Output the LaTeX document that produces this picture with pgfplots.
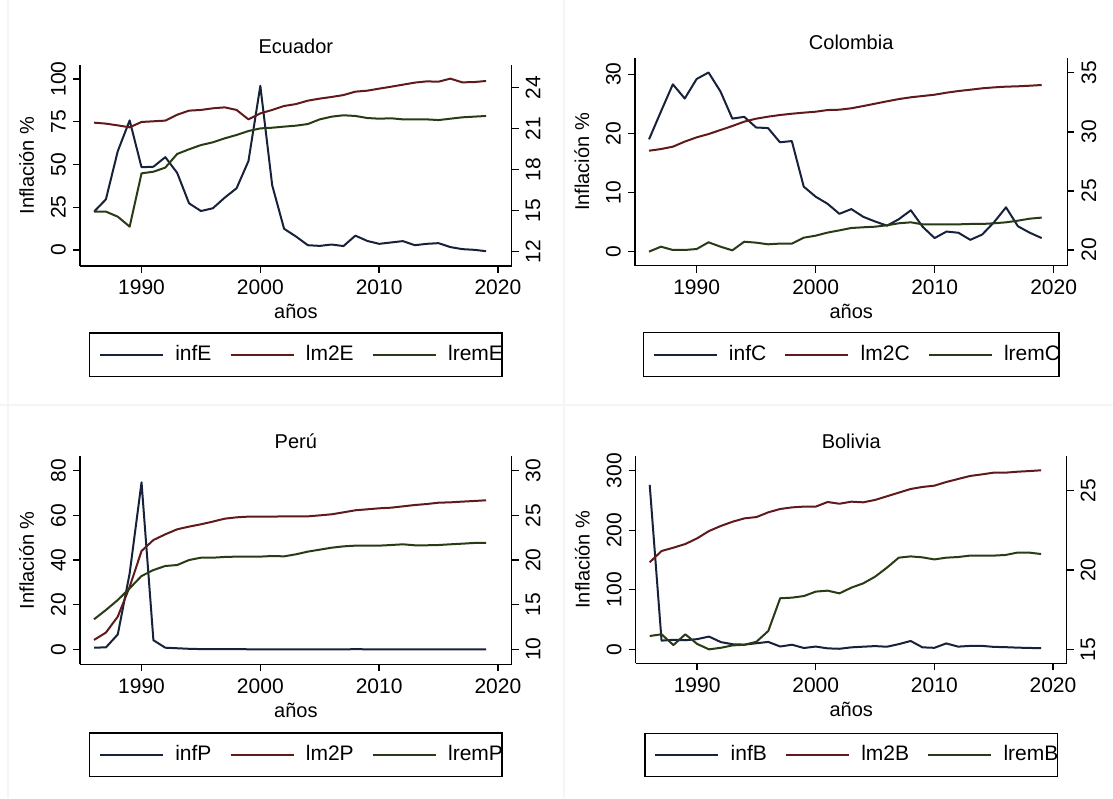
\documentclass[border=0pt]{standalone}
\usepackage{fontspec}
\setmainfont{Liberation Sans}
\usepackage{pgfplots}
\pgfplotsset{compat=1.18}
\definecolor{cNavy}{HTML}{17223A}
\definecolor{cMar}{HTML}{601A1C}
\definecolor{cGrn}{HTML}{283B15}
\newcommand{\fs}{\fontsize{10.5pt}{12pt}\selectfont}
\pgfplotsset{
  panel/.style={scale only axis, xmin=1984.82, xmax=2021.16,
    xtick={1990,2000,2010,2020},
    tick align=outside, major tick length=3.5pt,
    axis line style={line width=0.7pt, black},
    every tick/.style={line width=0.7pt, black},
    tick label style={font=\fs}, label style={font=\fs}, title style={font=\fs},
    /pgf/number format/1000 sep={},
    /pgf/number format/assume math mode=true},
  lax/.style={panel, axis x line*=bottom, axis y line*=left,
    xlabel={años}, ylabel={Inflación \%},
    yticklabel style={rotate=90, anchor=south},
    every axis x label/.style={at={(axis description cs:0.5,0)}, anchor=base, yshift=-26.4pt},
    every axis y label/.style={at={(axis description cs:0,0.5)}, xshift=-23pt, rotate=90, anchor=base},
    every axis title/.style={at={(axis description cs:0.5,1)}, anchor=base}},
  rax/.style={panel, axis x line=none, axis y line*=right,
    yticklabel style={rotate=90, anchor=north},
    legend columns=3,
    legend style={anchor=north, draw=black, line width=0.6pt, font=\fs,
      inner xsep=4.7pt, inner ysep=6.3pt, column sep=5.6pt, nodes={inner sep=0pt}},
    legend image code/.code={\draw[#1] (0pt,0pt) -- (31.5pt,0pt);}},
  serie/.style={line width=1pt, line join=round},
}
\begin{document}
\begin{tikzpicture}
\useasboundingbox (0,0) rectangle (556.5pt,399pt);
\fill[white] (0,0) rectangle (556.5pt,399pt);
\draw[black!4, line width=0.8pt] (282pt,0) -- (282pt,399pt);
\draw[black!4, line width=0.8pt] (0,196.5pt) -- (556.5pt,196.5pt);
\draw[black!4, line width=0.8pt] (4pt,0) -- (4pt,399pt);

% ---------------- Ecuador ----------------
\begin{axis}[lax, at={(40pt,266pt)}, anchor=south west, width=215.85pt, height=100.5pt,
  ymin=-9.36, ymax=108.2, ytick={0,25,50,75,100},
  title={Ecuador}, title style={yshift=5.5pt}]
\addplot[serie, cNavy] coordinates {(1986,22.4)(1987,29.6)(1988,57.8)(1989,75.8)(1990,48.4)(1991,48.7)(1992,54.3)(1993,45.1)(1994,27.3)(1995,22.8)(1996,24.4)(1997,30.6)(1998,36.1)(1999,52.0)(2000,96.0)(2001,37.8)(2002,12.4)(2003,7.9)(2004,2.8)(2005,2.4)(2006,3.2)(2007,2.3)(2008,8.4)(2009,5.3)(2010,3.6)(2011,4.4)(2012,5.2)(2013,2.8)(2014,3.6)(2015,4.0)(2016,1.7)(2017,0.5)(2018,0.1)(2019,-0.7)};
\end{axis}
\begin{axis}[rax, at={(40pt,266pt)}, anchor=south west, width=215.85pt, height=100.5pt,
  ymin=10.95, ymax=25.66, ytick={12,15,18,21,24},
  legend style={at={(0.5,-0.33)}}]
\addlegendimage{serie, cNavy}
\addlegendentry{infE\kern3.5pt}
\addplot[serie, cMar] coordinates {(1986,21.44)(1987,21.37)(1988,21.24)(1989,21.10)(1990,21.49)(1991,21.54)(1992,21.59)(1993,22.02)(1994,22.32)(1995,22.37)(1996,22.49)(1997,22.56)(1998,22.37)(1999,21.68)(2000,22.12)(2001,22.37)(2002,22.66)(2003,22.80)(2004,23.05)(2005,23.20)(2006,23.32)(2007,23.46)(2008,23.71)(2009,23.78)(2010,23.93)(2011,24.07)(2012,24.22)(2013,24.37)(2014,24.46)(2015,24.44)(2016,24.66)(2017,24.39)(2018,24.41)(2019,24.49)};
\addlegendentry{lm2E\kern3.5pt}
\addplot[serie, cGrn] coordinates {(1986,14.93)(1987,14.93)(1988,14.56)(1989,13.83)(1990,17.73)(1991,17.85)(1992,18.15)(1993,19.15)(1994,19.49)(1995,19.80)(1996,20.00)(1997,20.29)(1998,20.54)(1999,20.83)(2000,21.02)(2001,21.07)(2002,21.15)(2003,21.22)(2004,21.34)(2005,21.68)(2006,21.88)(2007,21.98)(2008,21.93)(2009,21.78)(2010,21.73)(2011,21.76)(2012,21.68)(2013,21.68)(2014,21.68)(2015,21.63)(2016,21.73)(2017,21.83)(2018,21.88)(2019,21.93)};
\addlegendentry{lremE\kern-5.2pt}
\end{axis}

% ---------------- Colombia ----------------
\begin{axis}[lax, at={(317.5pt,266.15pt)}, anchor=south west, width=216.2pt, height=103.7pt,
  ymin=-2.37, ymax=32.7, ytick={0,10,20,30},
  title={Colombia}, title style={yshift=4.2pt}]
\addplot[serie, cNavy] coordinates {(1986,19.0)(1987,23.7)(1988,28.3)(1989,25.9)(1990,29.2)(1991,30.3)(1992,27.1)(1993,22.5)(1994,22.8)(1995,21.0)(1996,20.9)(1997,18.5)(1998,18.7)(1999,11.0)(2000,9.3)(2001,8.1)(2002,6.4)(2003,7.2)(2004,5.9)(2005,5.1)(2006,4.4)(2007,5.5)(2008,7.0)(2009,4.2)(2010,2.3)(2011,3.4)(2012,3.2)(2013,2.0)(2014,2.9)(2015,5.0)(2016,7.5)(2017,4.3)(2018,3.2)(2019,2.3)};
\end{axis}
\begin{axis}[rax, at={(317.5pt,266.15pt)}, anchor=south west, width=216.2pt, height=103.7pt,
  ymin=18.67, ymax=36.22, ytick={20,25,30,35},
  legend style={at={(0.5,-0.321)}}]
\addlegendimage{serie, cNavy}
\addlegendentry{infC\kern3.5pt}
\addplot[serie, cMar] coordinates {(1986,28.40)(1987,28.54)(1988,28.74)(1989,29.17)(1990,29.53)(1991,29.81)(1992,30.15)(1993,30.49)(1994,30.86)(1995,31.11)(1996,31.28)(1997,31.42)(1998,31.53)(1999,31.62)(2000,31.70)(2001,31.84)(2002,31.87)(2003,31.99)(2004,32.18)(2005,32.38)(2006,32.58)(2007,32.77)(2008,32.92)(2009,33.03)(2010,33.14)(2011,33.31)(2012,33.45)(2013,33.56)(2014,33.68)(2015,33.76)(2016,33.82)(2017,33.85)(2018,33.90)(2019,33.96)};
\addlegendentry{lm2C\kern3.5pt}
\addplot[serie, cGrn] coordinates {(1986,19.86)(1987,20.28)(1988,20.00)(1989,20.00)(1990,20.08)(1991,20.65)(1992,20.28)(1993,19.97)(1994,20.70)(1995,20.62)(1996,20.48)(1997,20.54)(1998,20.54)(1999,21.04)(2000,21.21)(2001,21.47)(2002,21.66)(2003,21.86)(2004,21.92)(2005,21.97)(2006,22.09)(2007,22.26)(2008,22.34)(2009,22.17)(2010,22.17)(2011,22.17)(2012,22.17)(2013,22.20)(2014,22.20)(2015,22.26)(2016,22.34)(2017,22.48)(2018,22.65)(2019,22.74)};
\addlegendentry{lremC\kern-5.2pt}
\end{axis}

% ---------------- Peru ----------------
\begin{axis}[lax, at={(40pt,66.85pt)}, anchor=south west, width=215.85pt, height=104.15pt,
  ymin=-6.7, ymax=86.6, ytick={0,20,40,60,80},
  title={Perú}, title style={yshift=3.5pt}]
\addplot[serie, cNavy] coordinates {(1986,0.78)(1987,0.86)(1988,6.67)(1989,34.0)(1990,74.8)(1991,4.09)(1992,0.73)(1993,0.49)(1994,0.24)(1995,0.11)(1996,0.12)(1997,0.085)(1998,0.07)(1999,0.035)(2000,0.038)(2001,0.02)(2002,0.002)(2003,0.023)(2004,0.037)(2005,0.016)(2006,0.02)(2007,0.018)(2008,0.058)(2009,0.029)(2010,0.015)(2011,0.034)(2012,0.037)(2013,0.028)(2014,0.032)(2015,0.036)(2016,0.036)(2017,0.028)(2018,0.013)(2019,0.021)};
\end{axis}
\begin{axis}[rax, at={(40pt,66.85pt)}, anchor=south west, width=215.85pt, height=104.15pt,
  ymin=8.32, ymax=31.65, ytick={10,15,20,25,30},
  legend style={at={(0.5,-0.327)}}]
\addlegendimage{serie, cNavy}
\addlegendentry{infP\kern3.5pt}
\addplot[serie, cMar] coordinates {(1986,11.05)(1987,11.87)(1988,13.66)(1989,17.00)(1990,21.01)(1991,22.24)(1992,22.88)(1993,23.44)(1994,23.74)(1995,24.00)(1996,24.30)(1997,24.63)(1998,24.78)(1999,24.86)(2000,24.86)(2001,24.86)(2002,24.89)(2003,24.89)(2004,24.89)(2005,25.00)(2006,25.12)(2007,25.34)(2008,25.57)(2009,25.68)(2010,25.79)(2011,25.86)(2012,26.01)(2013,26.16)(2014,26.27)(2015,26.42)(2016,26.46)(2017,26.54)(2018,26.61)(2019,26.69)};
\addlegendentry{lm2P\kern3.5pt}
\addplot[serie, cGrn] coordinates {(1986,13.36)(1987,14.40)(1988,15.52)(1989,16.83)(1990,18.21)(1991,18.88)(1992,19.33)(1993,19.44)(1994,20.00)(1995,20.26)(1996,20.26)(1997,20.34)(1998,20.38)(1999,20.38)(2000,20.38)(2001,20.45)(2002,20.41)(2003,20.64)(2004,20.94)(2005,21.16)(2006,21.38)(2007,21.53)(2008,21.61)(2009,21.61)(2010,21.61)(2011,21.68)(2012,21.76)(2013,21.65)(2014,21.65)(2015,21.68)(2016,21.76)(2017,21.83)(2018,21.91)(2019,21.91)};
\addlegendentry{lremP\kern-5.2pt}
\end{axis}

% ---------------- Bolivia ----------------
\begin{axis}[lax, at={(317.85pt,67.35pt)}, anchor=south west, width=215.5pt, height=103.65pt,
  ymin=-23.5, ymax=324.7, ytick={0,100,200,300},
  title={Bolivia}, title style={yshift=3.8pt}]
\addplot[serie, cNavy] coordinates {(1986,276.3)(1987,14.6)(1988,16.0)(1989,15.2)(1990,17.1)(1991,21.4)(1992,12.1)(1993,8.5)(1994,7.9)(1995,10.2)(1996,12.4)(1997,4.7)(1998,7.7)(1999,2.2)(2000,4.6)(2001,1.6)(2002,0.9)(2003,3.3)(2004,4.4)(2005,5.4)(2006,4.3)(2007,8.7)(2008,14.0)(2009,3.3)(2010,2.5)(2011,9.9)(2012,4.5)(2013,5.7)(2014,5.8)(2015,4.1)(2016,3.6)(2017,2.8)(2018,2.3)(2019,1.8)};
\end{axis}
\begin{axis}[rax, at={(317.85pt,67.35pt)}, anchor=south west, width=215.5pt, height=103.65pt,
  ymin=14.12, ymax=27.19, ytick={15,20,25},
  legend style={at={(0.5,-0.334)}}]
\addlegendimage{serie, cNavy}
\addlegendentry{infB\kern3.5pt}
\addplot[serie, cMar] coordinates {(1986,20.49)(1987,21.20)(1988,21.41)(1989,21.64)(1990,22.00)(1991,22.46)(1992,22.78)(1993,23.05)(1994,23.26)(1995,23.34)(1996,23.64)(1997,23.85)(1998,23.95)(1999,24.00)(2000,24.00)(2001,24.29)(2002,24.18)(2003,24.31)(2004,24.27)(2005,24.42)(2006,24.65)(2007,24.88)(2008,25.11)(2009,25.24)(2010,25.32)(2011,25.55)(2012,25.74)(2013,25.93)(2014,26.03)(2015,26.14)(2016,26.14)(2017,26.20)(2018,26.24)(2019,26.29)};
\addlegendentry{lm2B\kern3.5pt}
\addplot[serie, cGrn] coordinates {(1986,15.84)(1987,15.95)(1988,15.27)(1989,15.95)(1990,15.34)(1991,15.00)(1992,15.10)(1993,15.25)(1994,15.29)(1995,15.48)(1996,16.16)(1997,18.22)(1998,18.26)(1999,18.36)(2000,18.64)(2001,18.70)(2002,18.53)(2003,18.89)(2004,19.16)(2005,19.58)(2006,20.15)(2007,20.78)(2008,20.86)(2009,20.80)(2010,20.67)(2011,20.78)(2012,20.82)(2013,20.91)(2014,20.91)(2015,20.91)(2016,20.95)(2017,21.10)(2018,21.10)(2019,21.01)};
\addlegendentry{lremB\kern-5.2pt}
\end{axis}
\end{tikzpicture}
\end{document}
